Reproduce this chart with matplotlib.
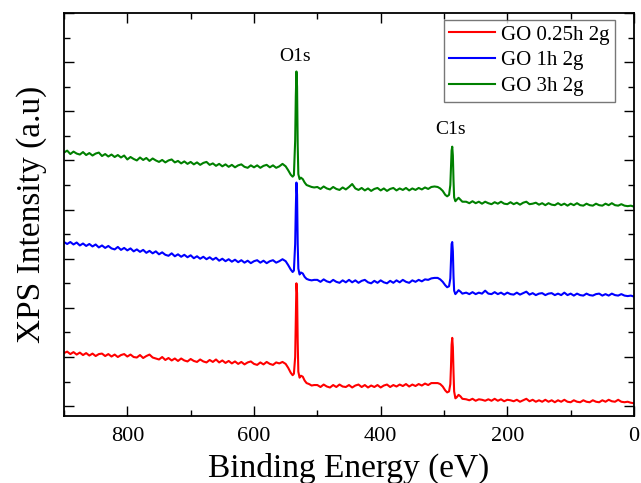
import matplotlib
matplotlib.use('Agg')
import matplotlib.pyplot as plt
from matplotlib.ticker import MultipleLocator, NullFormatter

# binding energy grid (eV)
energy = (list(range(900, 555, -5))
          + [555, 550, 546, 542, 539, 537, 535, 534, 533, 532,
             531, 530, 528, 526, 523, 520, 517, 513, 509, 505]
          + list(range(500, 310, -5))
          + [310, 306, 302, 298, 295, 292, 290, 289, 288, 287,
             286, 285, 284, 282, 280, 277, 274, 271]
          + list(range(265, -1, -5)))

# GO 0.25h 2g
go_025h = [
    2.08, 2.11, 2.06, 2.10, 2.05, 2.09, 2.04, 2.08, 2.03, 2.07,
    2.02, 2.06, 2.07, 2.02, 2.06, 2.01, 2.05, 2.00, 2.04, 2.06,
    2.01, 2.05, 2.00, 1.99, 2.04, 1.98, 2.02, 2.05, 1.99, 1.97,
    1.95, 2.00, 1.94, 1.98, 1.93, 1.97, 1.92, 1.97, 1.93, 1.91,
    1.96, 1.92, 1.90, 1.95, 1.91, 1.89, 1.94, 1.90, 1.95, 1.89,
    1.93, 1.88, 1.92, 1.87, 1.91, 1.86, 1.90, 1.85, 1.89, 1.91,
    1.86, 1.84, 1.89, 1.85, 1.90, 1.86, 1.84, 1.89, 1.87,
    # O1s
    1.90, 1.86, 1.78, 1.68, 1.63, 1.66, 2.00, 2.80, 3.50, 3.30,
    2.30, 1.70, 1.58, 1.62, 1.60, 1.52, 1.47, 1.45, 1.42, 1.43,
    1.43, 1.39, 1.44, 1.40, 1.38, 1.43, 1.39, 1.44, 1.40, 1.39,
    1.43, 1.38, 1.42, 1.44, 1.39, 1.43, 1.38, 1.42, 1.39, 1.43,
    1.38, 1.42, 1.44, 1.39, 1.43, 1.40, 1.44, 1.41, 1.45, 1.40,
    1.44, 1.41, 1.45, 1.42, 1.46, 1.43, 1.47, 1.47,
    # C1s
    1.47, 1.45, 1.40, 1.32, 1.28, 1.30, 1.45, 1.80, 2.25, 2.39,
    2.20, 1.70, 1.30, 1.16, 1.18, 1.23, 1.20, 1.15,
    1.14, 1.12, 1.15, 1.11, 1.14, 1.13, 1.11, 1.14, 1.11, 1.15,
    1.11, 1.14, 1.10, 1.13, 1.12, 1.10, 1.13, 1.09, 1.12, 1.15,
    1.10, 1.13, 1.09, 1.12, 1.09, 1.13, 1.09, 1.12, 1.08, 1.12,
    1.09, 1.13, 1.09, 1.08, 1.12, 1.09, 1.08, 1.12, 1.09, 1.08,
    1.12, 1.09, 1.08, 1.12, 1.09, 1.13, 1.10, 1.09, 1.13, 1.09,
    1.08, 1.09, 1.07, 1.06,
]

# GO 1h 2g
go_1h = [
    4.34, 4.30, 4.34, 4.29, 4.33, 4.27, 4.31, 4.26, 4.30, 4.25,
    4.29, 4.23, 4.27, 4.22, 4.26, 4.21, 4.19, 4.24, 4.18, 4.22,
    4.17, 4.21, 4.15, 4.19, 4.14, 4.18, 4.12, 4.16, 4.11, 4.15,
    4.09, 4.13, 4.08, 4.06, 4.11, 4.05, 4.09, 4.04, 4.08, 4.03,
    4.07, 4.01, 4.05, 4.00, 4.04, 3.99, 4.03, 3.98, 4.02, 3.96,
    4.00, 3.95, 3.99, 3.94, 3.98, 3.93, 3.97, 3.92, 3.96, 3.91,
    3.95, 3.97, 3.92, 3.96, 3.91, 3.95, 3.97, 3.92, 3.95,
    # O1s
    3.99, 3.95, 3.87, 3.78, 3.73, 3.76, 4.30, 5.00, 5.55, 5.30,
    4.30, 3.80, 3.68, 3.72, 3.70, 3.63, 3.59, 3.57, 3.56, 3.57,
    3.57, 3.53, 3.58, 3.54, 3.52, 3.57, 3.53, 3.51, 3.56, 3.52,
    3.57, 3.52, 3.56, 3.51, 3.55, 3.57, 3.52, 3.50, 3.55, 3.51,
    3.56, 3.52, 3.50, 3.55, 3.51, 3.56, 3.52, 3.57, 3.53, 3.51,
    3.56, 3.53, 3.57, 3.54, 3.58, 3.57, 3.60, 3.61,
    # C1s
    3.61, 3.58, 3.53, 3.46, 3.42, 3.44, 3.60, 3.95, 4.30, 4.34,
    4.15, 3.65, 3.35, 3.28, 3.31, 3.36, 3.33, 3.29,
    3.31, 3.28, 3.32, 3.28, 3.31, 3.29, 3.35, 3.29, 3.28, 3.32,
    3.28, 3.31, 3.27, 3.31, 3.28, 3.27, 3.31, 3.27, 3.30, 3.33,
    3.27, 3.30, 3.26, 3.29, 3.30, 3.26, 3.29, 3.30, 3.26, 3.29,
    3.26, 3.31, 3.26, 3.29, 3.25, 3.29, 3.26, 3.25, 3.29, 3.26,
    3.25, 3.28, 3.29, 3.25, 3.28, 3.25, 3.29, 3.26, 3.25, 3.28,
    3.25, 3.24, 3.25, 3.23,
]

# GO 3h 2g
go_3h = [
    6.16, 6.20, 6.13, 6.18, 6.14, 6.12, 6.17, 6.11, 6.15, 6.10,
    6.14, 6.16, 6.09, 6.13, 6.08, 6.12, 6.07, 6.11, 6.06, 6.10,
    6.02, 6.07, 6.03, 6.00, 6.06, 6.01, 6.05, 5.99, 6.04, 6.00,
    5.97, 6.01, 5.96, 6.00, 6.02, 5.96, 5.99, 5.94, 5.98, 5.93,
    5.97, 5.92, 5.96, 5.91, 5.95, 5.97, 5.91, 5.94, 5.89, 5.93,
    5.88, 5.92, 5.87, 5.91, 5.86, 5.90, 5.92, 5.87, 5.85, 5.90,
    5.86, 5.90, 5.85, 5.89, 5.91, 5.86, 5.90, 5.85, 5.88,
    # O1s
    5.93, 5.88, 5.80, 5.71, 5.67, 5.70, 6.40, 7.30, 7.81, 7.50,
    6.30, 5.72, 5.62, 5.65, 5.62, 5.55, 5.50, 5.48, 5.46, 5.45,
    5.46, 5.42, 5.47, 5.43, 5.41, 5.46, 5.42, 5.40, 5.45, 5.41,
    5.46, 5.52, 5.43, 5.40, 5.44, 5.39, 5.43, 5.38, 5.42, 5.44,
    5.39, 5.43, 5.38, 5.42, 5.44, 5.39, 5.43, 5.40, 5.44, 5.39,
    5.43, 5.40, 5.44, 5.41, 5.45, 5.42, 5.46, 5.47,
    # C1s
    5.46, 5.43, 5.38, 5.30, 5.27, 5.30, 5.50, 5.85, 6.20, 6.28,
    6.10, 5.60, 5.25, 5.17, 5.20, 5.24, 5.20, 5.16,
    5.16, 5.13, 5.17, 5.13, 5.16, 5.12, 5.16, 5.13, 5.11, 5.15,
    5.12, 5.16, 5.12, 5.11, 5.15, 5.11, 5.14, 5.10, 5.14, 5.16,
    5.11, 5.12, 5.14, 5.10, 5.13, 5.09, 5.13, 5.10, 5.09, 5.13,
    5.09, 5.12, 5.08, 5.12, 5.09, 5.13, 5.09, 5.08, 5.12, 5.09,
    5.08, 5.12, 5.09, 5.08, 5.12, 5.09, 5.13, 5.09, 5.08, 5.11,
    5.08, 5.07, 5.08, 5.06,
]

labels = ['GO 0.25h 2g', 'GO 1h 2g', 'GO 3h 2g']
colors = ['#ff0000', '#0000ff', '#008000']
peaks = [('O1s', 535, 8.11), ('C1s', 289, 6.62)]


def main():
    plt.rcParams['font.family'] = ['Liberation Serif', 'DejaVu Serif']
    fig = plt.figure(figsize=(6.41, 4.83), dpi=100)
    ax = fig.add_axes([64 / 641, 67 / 483, 570 / 641, 403 / 483])

    for y, lab, c in zip([go_025h, go_1h, go_3h], labels, colors):
        ax.plot(energy, y, color=c, lw=1.5, label=lab)

    for name, x, y in peaks:
        ax.text(x, y, name, ha='center', va='center', fontsize=14)

    ax.set_xlim(900, 0)
    ax.set_ylim(0.8, 9.0)
    ax.xaxis.set_major_locator(MultipleLocator(200))
    ax.xaxis.set_minor_locator(MultipleLocator(100))
    ax.yaxis.set_major_locator(MultipleLocator(1))
    ax.yaxis.set_minor_locator(MultipleLocator(0.5))
    ax.yaxis.set_major_formatter(NullFormatter())
    ax.tick_params(which='both', direction='in', top=True, right=True,
                   width=1, labelsize=16)
    ax.tick_params(axis='x', which='major', pad=8)
    ax.tick_params(which='major', length=7)
    ax.tick_params(which='minor', length=4)
    for s in ax.spines.values():
        s.set_linewidth(1.3)

    ax.set_xlabel('Binding Energy (eV)', fontsize=24, labelpad=5)
    ax.set_ylabel('XPS Intensity (a.u)', fontsize=24, labelpad=9)

    leg = ax.legend(loc='upper right', bbox_to_anchor=(0.967, 0.983),
                    borderaxespad=0, fontsize=15, fancybox=False,
                    handlelength=2.2, handletextpad=0.3, labelspacing=0.3,
                    borderpad=0.25)
    leg.get_frame().set_edgecolor('#555555')
    leg.get_frame().set_linewidth(1.0)

    fig.savefig('out.png', dpi=100)


if __name__ == '__main__':
    main()
